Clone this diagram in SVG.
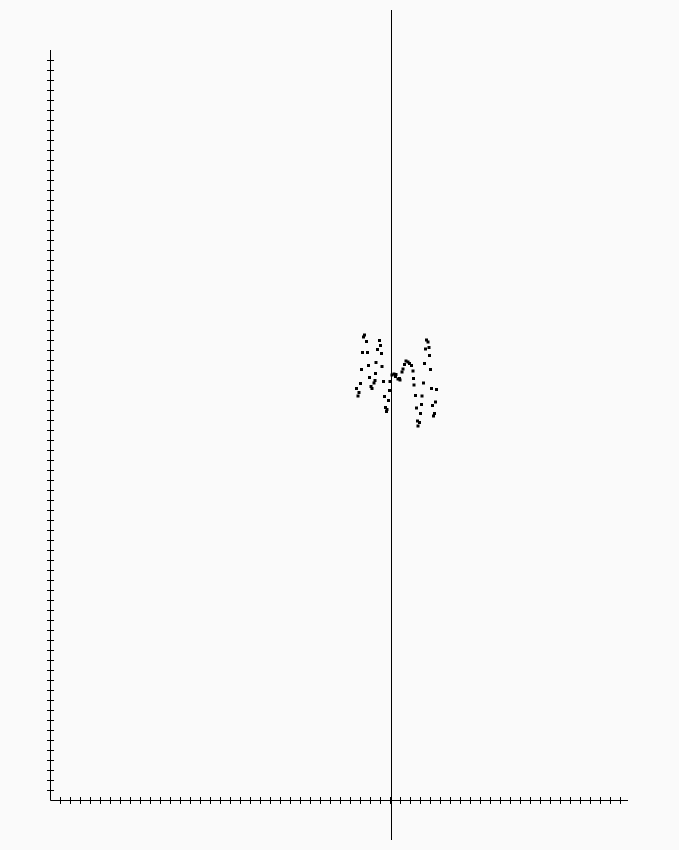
<svg xmlns="http://www.w3.org/2000/svg" width="679" height="850" viewBox="0 0 679 850">
<style>
.ax{stroke:#000;stroke-width:1;fill:none}
.pt{fill:#000}
</style>
<rect width="679" height="850" fill="#fafafa"/>
<g id="axes">
<path class="ax" d="M50.5 50V800.5H628"/>
<path class="ax" d="M47 60.5h7M47 70.5h7M47 80.5h7M47 90.5h7M47 100.5h7M47 110.5h7M47 120.5h7M47 130.5h7M47 140.5h7M47 150.5h7M47 160.5h7M47 170.5h7M47 180.5h7M47 190.5h7M47 200.5h7M47 210.5h7M47 220.5h7M47 230.5h7M47 240.5h7M47 250.5h7M47 260.5h7M47 270.5h7M47 280.5h7M47 290.5h7M47 300.5h7M47 310.5h7M47 320.5h7M47 330.5h7M47 340.5h7M47 350.5h7M47 360.5h7M47 370.5h7M47 380.5h7M47 390.5h7M47 400.5h7M47 410.5h7M47 420.5h7M47 430.5h7M47 440.5h7M47 450.5h7M47 460.5h7M47 470.5h7M47 480.5h7M47 490.5h7M47 500.5h7M47 510.5h7M47 520.5h7M47 530.5h7M47 540.5h7M47 550.5h7M47 560.5h7M47 570.5h7M47 580.5h7M47 590.5h7M47 600.5h7M47 610.5h7M47 620.5h7M47 630.5h7M47 640.5h7M47 650.5h7M47 660.5h7M47 670.5h7M47 680.5h7M47 690.5h7M47 700.5h7M47 710.5h7M47 720.5h7M47 730.5h7M47 740.5h7M47 750.5h7M47 760.5h7M47 770.5h7M47 780.5h7M47 790.5h7"/>
<path class="ax" d="M60.5 797v7M70.5 797v7M80.5 797v7M90.5 797v7M100.5 797v7M110.5 797v7M120.5 797v7M130.5 797v7M140.5 797v7M150.5 797v7M160.5 797v7M170.5 797v7M180.5 797v7M190.5 797v7M200.5 797v7M210.5 797v7M220.5 797v7M230.5 797v7M240.5 797v7M250.5 797v7M260.5 797v7M270.5 797v7M280.5 797v7M290.5 797v7M300.5 797v7M310.5 797v7M320.5 797v7M330.5 797v7M340.5 797v7M350.5 797v7M360.5 797v7M370.5 797v7M380.5 797v7M390.5 797v7M400.5 797v7M410.5 797v7M420.5 797v7M430.5 797v7M440.5 797v7M450.5 797v7M460.5 797v7M470.5 797v7M480.5 797v7M490.5 797v7M500.5 797v7M510.5 797v7M520.5 797v7M530.5 797v7M540.5 797v7M550.5 797v7M560.5 797v7M570.5 797v7M580.5 797v7M590.5 797v7M600.5 797v7M610.5 797v7M620.5 797v7"/>
<path class="ax" d="M391.5 10V840"/>
</g>
<g id="points" class="pt">
<rect x="363" y="333.5" width="3" height="3"/>
<rect x="362" y="335.5" width="3" height="3"/>
<rect x="365" y="340" width="3" height="3"/>
<rect x="378" y="339" width="3" height="3"/>
<rect x="379" y="344" width="3" height="3"/>
<rect x="361" y="351" width="3" height="3"/>
<rect x="366" y="351" width="3" height="3"/>
<rect x="376" y="348" width="3" height="3"/>
<rect x="380" y="352" width="3" height="3"/>
<rect x="374.5" y="361" width="3" height="3"/>
<rect x="367" y="364" width="3" height="3"/>
<rect x="380.5" y="365" width="3" height="3"/>
<rect x="360" y="368" width="3" height="3"/>
<rect x="374" y="372" width="3" height="3"/>
<rect x="368" y="376" width="3" height="3"/>
<rect x="373.5" y="379" width="3" height="3"/>
<rect x="372.5" y="381.5" width="3" height="3"/>
<rect x="382" y="380" width="3" height="3"/>
<rect x="359" y="382" width="3" height="3"/>
<rect x="369.5" y="385" width="3" height="3"/>
<rect x="370.5" y="387" width="3" height="3"/>
<rect x="388.5" y="380" width="3" height="3"/>
<rect x="355" y="387" width="3" height="3"/>
<rect x="357.5" y="391" width="3" height="3"/>
<rect x="356.5" y="394.5" width="3" height="3"/>
<rect x="388" y="389" width="3" height="3"/>
<rect x="383" y="395" width="3" height="3"/>
<rect x="387" y="399" width="3" height="3"/>
<rect x="384" y="406" width="3" height="3"/>
<rect x="385.5" y="408" width="3" height="3"/>
<rect x="385" y="410" width="3" height="3"/>
<rect x="390.5" y="373.5" width="3" height="3"/>
<rect x="392.5" y="372.5" width="3" height="3"/>
<rect x="394.5" y="373" width="3" height="3"/>
<rect x="394" y="375" width="3" height="3"/>
<rect x="396.5" y="377.5" width="3" height="3"/>
<rect x="398.5" y="378.5" width="3" height="3"/>
<rect x="398" y="377" width="3" height="3"/>
<rect x="400.5" y="370.5" width="3" height="3"/>
<rect x="401.5" y="367.5" width="3" height="3"/>
<rect x="403" y="363" width="3" height="3"/>
<rect x="404.5" y="359.5" width="3" height="3"/>
<rect x="406.5" y="360.5" width="3" height="3"/>
<rect x="408" y="362" width="3" height="3"/>
<rect x="410" y="364" width="3" height="3"/>
<rect x="411.5" y="369.5" width="3" height="3"/>
<rect x="412" y="377" width="3" height="3"/>
<rect x="412.5" y="383.5" width="3" height="3"/>
<rect x="414" y="394" width="3" height="3"/>
<rect x="420.5" y="394.5" width="3" height="3"/>
<rect x="422" y="381.5" width="3" height="3"/>
<rect x="423" y="362" width="3" height="3"/>
<rect x="425" y="338.5" width="3" height="3"/>
<rect x="426.5" y="340.5" width="3" height="3"/>
<rect x="427.5" y="346" width="3" height="3"/>
<rect x="424" y="347.5" width="3" height="3"/>
<rect x="428" y="354" width="3" height="3"/>
<rect x="429" y="368" width="3" height="3"/>
<rect x="430" y="387" width="3" height="3"/>
<rect x="435" y="388" width="3" height="3"/>
<rect x="434" y="400.5" width="3" height="3"/>
<rect x="431" y="404" width="3" height="3"/>
<rect x="433" y="412" width="3" height="3"/>
<rect x="432" y="414.5" width="3" height="3"/>
<rect x="420" y="403" width="3" height="3"/>
<rect x="415" y="406.5" width="3" height="3"/>
<rect x="419" y="412" width="3" height="3"/>
<rect x="416" y="419.5" width="3" height="3"/>
<rect x="418" y="421" width="3" height="3"/>
<rect x="416.5" y="424.5" width="3" height="3"/>
</g>
</svg>
